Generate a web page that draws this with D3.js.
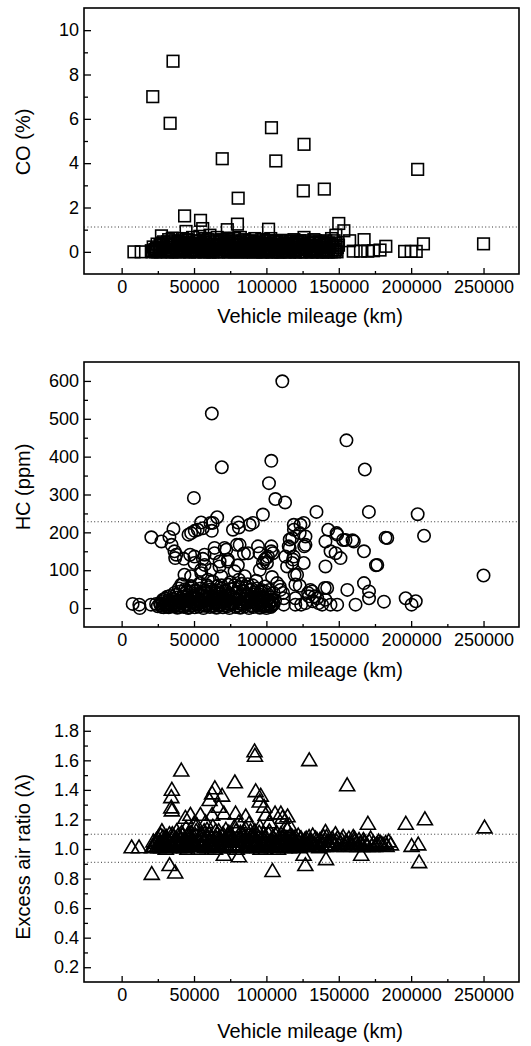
<!DOCTYPE html>
<html>
<head>
<meta charset="utf-8">
<script src="https://cdn.jsdelivr.net/npm/d3@7"></script>
<style>
  body { margin: 0; background: #fff; }
  svg { display: block; font-family: "Liberation Sans", Arial, sans-serif; }
  .tick text { font-size: 18px; fill: #000; }
  .tick line { stroke: #000; stroke-width: 1.3; }
</style>
</head>
<body>
<svg width="531" height="1046"></svg>
<script>
// x tick labels (shared by the three panels)
const mileageTicks = [0, 50000, 100000, 150000, 200000, 250000];

// CO (%) vs vehicle mileage (km)
const coPoints = [
  [8500,0.0],[13500,0.0],[21000,0.0],[21500,7.0],[35500,8.6],[33500,5.8],[27500,0.72],[43500,1.62],
  [44500,0.92],[54500,1.42],[56000,1.05],[69500,4.2],[73000,1.0],[80500,2.42],[80000,1.25],[103500,5.6],
  [106500,4.1],[101500,1.02],[125500,2.75],[126000,4.85],[140000,2.83],[150000,1.28],[153500,0.95],[148000,0.75],
  [157500,0.5],[167500,0.55],[182500,0.25],[178500,0.08],[195500,0.02],[200000,0.02],[203500,0.02],[204500,3.72],
  [208500,0.36],[250000,0.36],[170000,0.03],[165000,0.03],[160000,0.03],[174000,0.05],[147500,0.03],
  [22500,0.02],[24000,0.15],[25000,0.0],[26500,0.3],[28000,0.05],[29000,0.45],[30500,0.1],[31500,0.0],
  [32500,0.55],[33000,0.2],[34500,0.05],[35000,0.62],[36000,0.3],[37500,0.0],[38500,0.15],[39000,0.48],
  [40500,0.05],[41500,0.25],[42000,0.6],[43000,0.0],[44000,0.35],[45500,0.1],[46000,0.52],[47000,0.0],
  [48500,0.2],[49000,0.65],[50000,0.05],[51000,0.4],[52500,0.0],[53000,0.25],[54000,0.7],[55000,0.1],
  [56500,0.45],[57000,0.0],[58000,0.6],[59000,0.2],[60000,0.05],[61000,0.75],[62000,0.35],[63000,0.0],
  [64000,0.5],[65000,0.15],[66000,0.65],[67000,0.0],[68000,0.3],[69000,0.55],[70000,0.1],[71000,0.0],
  [72000,0.4],[73500,0.62],[74000,0.2],[75000,0.0],[76000,0.5],[77000,0.1],[78000,0.6],[79000,0.3],
  [80000,0.0],[81000,0.45],[82000,0.65],[83000,0.15],[84000,0.0],[85000,0.55],[86000,0.25],[87000,0.0],
  [88000,0.5],[89000,0.1],[90000,0.35],[91000,0.0],[92000,0.6],[93000,0.2],[94000,0.05],[95000,0.45],
  [96000,0.0],[97000,0.3],[98000,0.55],[99000,0.1],[100000,0.0],[101000,0.4],[102000,0.2],[103000,0.6],
  [104000,0.0],[105000,0.35],[106000,0.1],[107000,0.5],[108000,0.0],[109000,0.25],[110000,0.45],[111000,0.05],
  [112000,0.3],[113000,0.0],[114000,0.5],[115000,0.15],[116000,0.0],[117000,0.4],[118000,0.2],[119000,0.55],
  [120000,0.0],[121000,0.3],[122000,0.1],[123000,0.5],[124000,0.0],[125000,0.35],[126000,0.65],[127000,0.15],
  [128000,0.0],[129000,0.45],[130000,0.25],[131000,0.0],[132000,0.4],[133000,0.1],[134000,0.5],[135000,0.0],
  [136000,0.3],[137000,0.05],[138000,0.45],[139000,0.0],[140000,0.2],[141000,0.5],[142000,0.05],[143000,0.0],
  [144000,0.35],[145000,0.6],[146000,0.1],[147000,0.0],[148000,0.4],[149000,0.2],
  [23000,0.1],[27000,0.2],[31000,0.35],[34000,0.0],[37000,0.4],[40000,0.2],[43500,0.45],[46500,0.3],
  [49500,0.1],[52000,0.5],[55500,0.3],[58500,0.15],[61500,0.0],[64500,0.25],[67500,0.45],[70500,0.2],
  [73000,0.05],[76500,0.3],[79500,0.1],[82500,0.35],[85500,0.05],[88500,0.25],[91500,0.45],[94500,0.15],
  [97500,0.0],[100500,0.25],[103500,0.1],[106500,0.3],[109500,0.0],[112500,0.2],[115500,0.35],[118500,0.05],
  [121500,0.45],[124500,0.2],[127500,0.3],[130500,0.1],[133500,0.25],[136500,0.4],[139500,0.1],
  [20500,0.05],[21800,0.22],[23500,0.0],[24500,0.35],[25800,0.12],[26800,0.0],[27800,0.4],[28800,0.18],
  [29800,0.02],[30800,0.28],[31800,0.45],[32800,0.08],[33800,0.3],[34800,0.0],[35800,0.18],[36800,0.5],
  [37800,0.1],[38800,0.32],[39800,0.0],[40800,0.42],[41800,0.12],[42800,0.28],[43800,0.05],[44800,0.55],
  [45800,0.2],[46800,0.0],[47800,0.38],[48800,0.1],[49800,0.3],[50800,0.0],[51800,0.22],[52800,0.48],
  [53800,0.05],[54800,0.35],[55800,0.15],[56800,0.0],[57800,0.42],[58800,0.25],[59800,0.55],[60800,0.0],
  [61800,0.18],[62800,0.45],[63800,0.08],[64800,0.35],[65800,0.0],[66800,0.28],[67800,0.12],[68800,0.5],
  [69800,0.02],[70800,0.35],[71800,0.2],[72800,0.55],[73800,0.0],[74800,0.4],[75800,0.15],[76800,0.3],
  [77800,0.0],[78800,0.45],[79800,0.2],[80800,0.05],[81800,0.35],[82800,0.0],[83800,0.5],[84800,0.2],
  [85800,0.4],[86800,0.05],[87800,0.3],[88800,0.0],[89800,0.48],[90800,0.15],[91800,0.3],[92800,0.0],
  [93800,0.4],[94800,0.1],[95800,0.25],[96800,0.55],[97800,0.0],[98800,0.35],[99800,0.15],[100800,0.5],
  [101800,0.05],[102800,0.3],[103800,0.0],[104800,0.45],[105800,0.2],[106800,0.0],[107800,0.35],[108800,0.12],
  [109800,0.52],[110800,0.0],[111800,0.25],[112800,0.4],[113800,0.05],[114800,0.3],[115800,0.0],[116800,0.48],
  [117800,0.1],[118800,0.3],[119800,0.0],[120800,0.42],[121800,0.2],[122800,0.0],[123800,0.35],[124800,0.1],
  [125800,0.5],[126800,0.0],[127800,0.25],[128800,0.4],[129800,0.05],[130800,0.3],[131800,0.0],[132800,0.55],
  [133800,0.15],[134800,0.3],[135800,0.0],[136800,0.45],[137800,0.2],[138800,0.0],[139800,0.35],[140800,0.1],
  [141800,0.0],[142800,0.4],[143800,0.2],[144800,0.0],[145800,0.3],[146800,0.5],[147800,0.1],[148800,0.0],
  [149800,0.3]
];

// HC (ppm) vs vehicle mileage (km)
const hcPoints = [
  [111000,599],[62300,514],[69200,372],[103400,389],[101800,330],[106200,288],[112900,279],[49900,291],
  [97600,247],[134600,254],[155300,443],[168000,366],[170800,254],[204500,248],[208900,191],[182300,186],
  [250000,86],[175700,113],[7600,11],[12200,9],[12500,0],[20300,9],[23800,11],[148500,198],[153000,180],
  [159500,179],[142700,207],
  [20500,187],[27500,176],[33000,188],[34500,167],[35800,209],[36500,150],[37700,141],[37000,132],
  [43000,130],[47300,141],[50300,119],[50300,136],[43400,88],[41100,62],[46200,194],[48000,198],
  [50500,204],[52600,207],[54900,226],[56100,211],[61400,225],[62300,204],[66000,240],[63000,225],
  [57300,141],[64200,145],[64200,159],[71100,159],[72300,154],[67600,110],[67700,123],[73400,123],
  [73400,128],[56100,130],[57300,114],[61900,101],[54900,101],[48000,84],[55000,92],[59600,75],
  [68800,84],[78000,97],[85000,84],[80300,113],[84500,144],[79600,167],[81500,167],[87300,145],
  [76900,207],[80300,226],[81000,213],[88400,220],[90700,225],[95400,101],[94200,163],[95300,145],
  [99900,132],[97600,119],[103400,163],[104500,145],[103400,150],[101100,136],[98800,128],[100400,119],
  [103900,82],[109200,57],[111500,40],
  [118900,220],[123500,220],[119000,207],[127000,189],[117800,185],[115400,163],[127000,167],[113100,136],
  [118900,136],[117800,119],[125800,119],[114300,110],[121200,88],[120000,62],[123000,59],[119500,88],
  [116100,181],[123000,198],[125800,225],[126100,163],[116100,159],[118400,128],[130400,48],[128800,40],
  [133400,31],[140300,53],[148900,194],[154700,180],[160400,176],[140800,176],[144300,150],[147800,145],
  [151200,132],[167400,150],[183500,185],[176600,114],[140800,110],[167400,66],[170900,44],[170900,26],
  [155900,48],[161600,9],[181200,17],[196200,26],[200300,9],[203200,18],[142000,53],[148900,9],
  [144300,9],[138500,9],[140800,22],[135100,26],[129300,31],[131600,44],[127000,13],[120000,9],
  [120000,26],[112000,9],[112000,26],[109700,48],[107400,66],[105000,40],[124000,9],[132000,18],[136000,13],
  [25000,5],[26500,12],[28000,3],[29500,8],[31000,14],[32500,2],[34000,9],[35500,4],[37000,15],[38500,1],
  [40000,7],[41500,12],[43000,3],[44500,10],[46000,0],[47500,6],[49000,13],[50500,2],[52000,9],[53500,4],
  [55000,15],[56500,0],[58000,7],[59500,11],[61000,3],[62500,8],[64000,14],[65500,1],[67000,6],[68500,10],
  [70000,2],[71500,12],[73000,5],[74500,0],[76000,9],[77500,13],[79000,3],[80500,7],[82000,1],[83500,11],
  [85000,4],[86500,14],[88000,0],[89500,8],[91000,3],[92500,12],[94000,6],[95500,1],[97000,10],[98500,4],
  [100000,0],[101500,8],[103000,3],[104500,12],
  [28500,22],[31500,30],[34500,18],[37500,35],[40500,25],[43500,38],[46500,20],[49500,33],[52500,27],
  [55500,40],[58500,19],[61500,31],[64500,24],[67500,37],[70500,21],[73500,34],[76500,28],[79500,39],
  [82500,17],[85500,32],[88500,26],[91500,36],[94500,20],[97500,30],[100500,24],[103500,16],[106000,20],
  [39500,52],[42000,62],[45000,45],[48000,58],[51000,48],[54000,66],[57000,42],[60000,55],[63000,70],
  [66000,47],[69000,60],[72000,44],[75000,68],[78000,53],[81000,75],[84000,46],[87000,63],[90000,50],
  [93000,72],[96000,43],[99000,57],[102000,48],
  [45000,18],[48500,26],[53000,17],[57500,23],[60500,16],[63500,27],[66500,15],[69500,25],[72500,18],
  [75500,16],[78500,24],[81500,30],[84500,22],[87500,17],[90500,23],[93500,28],
  [27000,8],[28000,18],[29000,2],[30000,25],[30500,10],[31500,4],[32000,20],[33000,12],[33500,32],[34500,6],
  [35000,24],[36000,15],[36500,40],[37500,8],[38000,28],[39000,18],[39500,3],[40500,44],[41000,14],[42000,30],
  [42500,6],[43500,22],[44000,50],[45000,10],[45500,32],[46500,2],[47000,42],[48000,16],[48500,55],[49500,8],
  [50000,28],[51000,45],[51500,12],[52500,36],[53000,4],[54000,22],[54500,52],[55500,14],[56000,33],[57000,6],
  [57500,46],[58500,26],[59000,60],[60000,10],[60500,38],[61500,20],[62000,50],[63000,5],[63500,30],[64500,44],
  [65000,12],[66000,58],[66500,26],[67500,8],[68000,40],[69000,18],[69500,52],[70500,30],[71000,6],[72000,46],
  [72500,20],[73500,62],[74000,10],[75000,36],[75500,50],[76500,14],[77000,28],[78000,60],[78500,4],[79500,42],
  [80000,22],[81000,55],[81500,12],[82500,34],[83000,64],[84000,8],[84500,44],[85500,24],[86000,56],[87000,14],
  [87500,36],[88500,48],[89000,6],[90000,30],[90500,60],[91500,18],[92000,42],[93000,10],[93500,52],[94500,26],
  [95000,36],[96000,6],[96500,48],[97500,16],[98000,30],[99000,44],[99500,8],[100500,20],[101000,36],[102000,12],
  [102500,28],[103500,6],[104000,22],[105000,10]
];

// Excess air ratio (lambda) vs vehicle mileage (km)
const lambdaPoints = [
  [22500,1.02],[24000,1.06],[25500,1.01],[27000,1.09],[28000,1.03],[29500,1.07],[30500,1.00],[32000,1.05],
  [33000,1.1],[34500,1.02],[35500,1.08],[37000,1.04],[38000,1.12],[39500,1.01],[40500,1.06],[42000,1.09],
  [43000,1.03],[44500,1.14],[45500,1.0],[47000,1.07],[48000,1.11],[49500,1.02],[50500,1.05],[52000,1.16],
  [53000,1.0],[54500,1.08],[55500,1.03],[57000,1.12],[58000,1.06],[59500,1.01],[60500,1.1],[62000,1.04],
  [63000,1.15],[64500,1.0],[65500,1.07],[67000,1.12],[68000,1.02],[69500,1.09],[70500,1.05],[72000,1.13],
  [73000,1.01],[74500,1.07],[75500,1.1],[77000,1.03],[78000,1.15],[79500,1.0],[80500,1.06],[82000,1.11],
  [83000,1.02],[84500,1.08],[85500,1.14],[87000,1.04],[88000,1.01],[89500,1.09],[90500,1.06],[92000,1.12],
  [93000,1.02],[94500,1.08],[95500,1.15],[97000,1.03],[98000,1.1],[99500,1.0],[100500,1.06],[102000,1.12],
  [103000,1.02],[104500,1.08],[105500,1.04],[107000,1.11],[108000,1.0],[109500,1.07],[110500,1.03],[112000,1.09],
  [113000,1.05],[114500,1.13],[115500,1.01],[117000,1.06],[118000,1.08],[119500,1.02],[120500,1.05],[122000,1.09],
  [123000,1.01],[124500,1.04],
  [23000,1.04],[26000,1.03],[29000,1.05],[31000,1.08],[34000,1.06],[36000,1.02],[39000,1.09],[41000,1.03],
  [44000,1.05],[46000,1.1],[49000,1.04],[51000,1.09],[53500,1.05],[56000,1.02],[58500,1.09],[61000,1.06],
  [64000,1.03],[66000,1.1],[68500,1.05],[71000,1.02],[73500,1.09],[76000,1.05],[78500,1.03],[81000,1.09],
  [83500,1.05],[86000,1.02],[88500,1.06],[91000,1.03],[93500,1.05],[96000,1.0],[98500,1.06],[101000,1.03],
  [103500,1.05],[106000,1.02],[108500,1.05],[111000,1.07],[113500,1.02],[116000,1.04],[118500,1.06],[121000,1.03],
  [123500,1.07],
  [126000,1.04],[127500,1.07],[129000,1.02],[130500,1.05],[132000,1.09],[133500,1.03],[135000,1.06],[136500,1.01],
  [138000,1.05],[139500,1.08],[141000,1.02],[142500,1.05],[144000,1.03],[145500,1.07],[147000,1.02],[148500,1.05],
  [150000,1.03],[152000,1.06],[154000,1.02],[156000,1.04],[158000,1.03],[161000,1.05],[163000,1.02],[165000,1.04],
  [167000,1.06],[169000,1.03],[171000,1.05],[173000,1.02],[176000,1.03],[179000,1.04],[183000,1.02],[186000,1.03],
  [6900,1.01],[12000,1.01],[21000,1.01],[27800,1.12],[91800,1.66],[92100,1.63],[129600,1.6],[41200,1.53],
  [155800,1.43],[78200,1.45],[64400,1.41],[62500,1.375],[60700,1.33],[34700,1.4],[34300,1.35],[34300,1.28],
  [34700,1.26],[92600,1.39],[95400,1.32],[98400,1.285],[99500,1.23],[67100,1.285],[70600,1.24],[44000,1.21],
  [54400,1.23],[62500,1.23],[78700,1.24],[81000,1.18],[85700,1.22],[106000,1.24],[111100,1.21],[113400,1.15],
  [170100,1.17],[196300,1.17],[209500,1.2],[250700,1.145],[20800,0.83],[33100,0.89],[37000,0.84],[70600,0.96],
  [81000,0.95],[104200,0.85],[126900,0.89],[125700,0.96],[141200,0.93],[165500,0.96],[205500,0.91],[147700,1.1],
  [140800,1.115],[160900,1.07],[182400,1.04],[177100,1.03],[200300,1.02],[204900,1.03],[167800,1.05],[47500,1.23],
  [69400,1.36],[96100,1.36],[110000,1.24],[114600,1.22],[115800,1.16],[58000,1.18],[50000,1.17],[88000,1.17],
  [102000,1.18],
  [22000,1.05],[24500,1.02],[25000,1.07],[26500,1.05],[27500,1.01],[28500,1.08],[30000,1.03],[31500,1.06],
  [32500,1.01],[33500,1.04],[35000,1.1],[36500,1.05],[37500,1.07],[38500,1.02],[40000,1.04],[41500,1.11],
  [42500,1.06],[43500,1.01],[45000,1.08],[46500,1.04],[47500,1.02],[48500,1.07],[50000,1.03],[51500,1.12],
  [52500,1.06],[54000,1.02],[55000,1.1],[56500,1.05],[57500,1.01],[59000,1.13],[60000,1.03],[61500,1.08],
  [62500,1.02],[63500,1.06],[65000,1.12],[66500,1.04],[67500,1.08],[69000,1.01],[70000,1.1],[71500,1.06],
  [72500,1.03],[74000,1.11],[75000,1.02],[76500,1.08],[77500,1.05],[79000,1.12],[80000,1.03],[81500,1.07],
  [82500,1.01],[84000,1.1],[85000,1.05],[86500,1.08],[87500,1.02],[89000,1.12],[90000,1.04],[91500,1.09],
  [92500,1.05],[94000,1.01],[95000,1.11],[96500,1.06],[97500,1.02],[99000,1.08],[100000,1.04],[101500,1.1],
  [102500,1.05],[104000,1.01],[105000,1.07],[106500,1.09],[107500,1.04],[109000,1.02],[110000,1.1],[111500,1.05],
  [112500,1.01],[114000,1.07],[115000,1.04],[116500,1.09],[117500,1.03],[119000,1.06],[120000,1.08],[121500,1.02],
  [122500,1.05],[124000,1.07],[125000,1.02],[126500,1.06],[128000,1.03],[129500,1.08],[131000,1.04],[132500,1.02],
  [134000,1.07],[135500,1.04],[137000,1.06],[138500,1.02],[140000,1.05],[141500,1.08],[143000,1.03],[146000,1.05],
  [149000,1.07],[151000,1.04],[153000,1.08],[155000,1.05],[157000,1.07],[159000,1.02],[160000,1.08],[162000,1.04],
  [164000,1.06],[166000,1.02],[168000,1.04],[170000,1.02],[172000,1.07],[174000,1.04],[175000,1.02],[177500,1.05],
  [180500,1.03],[184500,1.05]
];

// tick values and reference (dotted) lines
const coTicks = [0, 2, 4, 6, 8, 10];
const coMinor = [1, 3, 5, 7, 9];
const coLimits = [1.12];
const hcTicks = [0, 100, 200, 300, 400, 500, 600];
const hcMinor = [50, 150, 250, 350, 450, 550];
const hcLimits = [228];
const lambdaTicks = [0.2, 0.4, 0.6, 0.8, 1.0, 1.2, 1.4, 1.6, 1.8];
const lambdaMinor = [0.3, 0.5, 0.7, 0.9, 1.1, 1.3, 1.5, 1.7];
const lambdaLimits = [1.1, 0.91];
const xMinor = [25000, 75000, 125000, 175000, 225000];

const svg = d3.select("svg");
const left = 84, right = 519;

const panels = [
  { top: 8, bottom: 274, yDomain: [-1, 11], ticks: coTicks, minor: coMinor, fmt: d3.format("d"),
    limits: coLimits, data: coPoints, marker: "square", ylabel: "CO (%)", ylabelY: 142, xlabelY: 323 },
  { top: 362, bottom: 627, yDomain: [-50, 650], ticks: hcTicks, minor: hcMinor, fmt: d3.format("d"),
    limits: hcLimits, data: hcPoints, marker: "circle", ylabel: "HC (ppm)", ylabelY: 487, xlabelY: 677 },
  { top: 716, bottom: 982, yDomain: [0.1, 1.9], ticks: lambdaTicks, minor: lambdaMinor, fmt: d3.format(".1f"),
    limits: lambdaLimits, data: lambdaPoints, marker: "triangle", ylabel: "Excess air ratio (\u03bb)", ylabelY: 857, xlabelY: 1038 }
];

panels.forEach(p => {
  const x = d3.scaleLinear().domain([-26000, 274500]).range([left, right]);
  const y = d3.scaleLinear().domain(p.yDomain).range([p.bottom, p.top]);
  const g = svg.append("g");

  // dotted reference lines
  g.selectAll(".limit")
    .data(p.limits)
    .enter()
    .append("line")
    .attr("x1", left).attr("x2", right)
    .attr("y1", d => y(d)).attr("y2", d => y(d))
    .attr("stroke", "#333")
    .attr("stroke-width", 1)
    .attr("stroke-dasharray", "1,2.4");

  // markers
  const pts = g.append("g")
    .attr("fill", "none")
    .attr("stroke", "#000")
    .attr("stroke-width", 1.6);

  if (p.marker === "square") {
    pts.selectAll("rect")
      .data(p.data)
      .enter()
      .append("rect")
      .attr("x", d => x(d[0]) - 5.8)
      .attr("y", d => y(d[1]) - 5.8)
      .attr("width", 11.6)
      .attr("height", 11.6);
  } else if (p.marker === "circle") {
    pts.selectAll("circle")
      .data(p.data)
      .enter()
      .append("circle")
      .attr("cx", d => x(d[0]))
      .attr("cy", d => y(d[1]))
      .attr("r", 6.2);
  } else {
    pts.selectAll("path")
      .data(p.data)
      .enter()
      .append("path")
      .attr("d", d => {
        const cx = x(d[0]), cy = y(d[1]);
        return `M${cx},${cy - 7.5}L${cx + 7.5},${cy + 5.3}L${cx - 7.5},${cy + 5.3}Z`;
      });
  }

  // axes: ticks point inward
  const yAxis = g.append("g")
    .attr("transform", `translate(${left},0)`)
    .call(d3.axisLeft(y).tickValues(p.ticks).tickFormat(p.fmt).tickSizeInner(-7).tickSizeOuter(0).tickPadding(5));
  yAxis.select(".domain").remove();

  const yMinor = g.append("g")
    .attr("transform", `translate(${left},0)`)
    .call(d3.axisLeft(y).tickValues(p.minor).tickFormat("").tickSizeInner(-4).tickSizeOuter(0));
  yMinor.select(".domain").remove();

  const xAxis = g.append("g")
    .attr("transform", `translate(0,${p.bottom})`)
    .call(d3.axisBottom(x).tickValues(mileageTicks).tickFormat(d3.format("d")).tickSizeInner(-6).tickSizeOuter(0).tickPadding(6));
  xAxis.select(".domain").remove();

  const xMinorAxis = g.append("g")
    .attr("transform", `translate(0,${p.bottom})`)
    .call(d3.axisBottom(x).tickValues(xMinor).tickFormat("").tickSizeInner(-3).tickSizeOuter(0));
  xMinorAxis.select(".domain").remove();

  // frame
  g.append("rect")
    .attr("x", left).attr("y", p.top)
    .attr("width", right - left).attr("height", p.bottom - p.top)
    .attr("fill", "none")
    .attr("stroke", "#000")
    .attr("stroke-width", 1.6);

  // axis titles
  g.append("text")
    .attr("x", 310).attr("y", p.xlabelY)
    .attr("text-anchor", "middle")
    .attr("font-size", 20)
    .text("Vehicle mileage (km)");

  g.append("text")
    .attr("transform", `translate(30,${p.ylabelY}) rotate(-90)`)
    .attr("text-anchor", "middle")
    .attr("font-size", 20)
    .text(p.ylabel);
});
</script>
</body>
</html>
